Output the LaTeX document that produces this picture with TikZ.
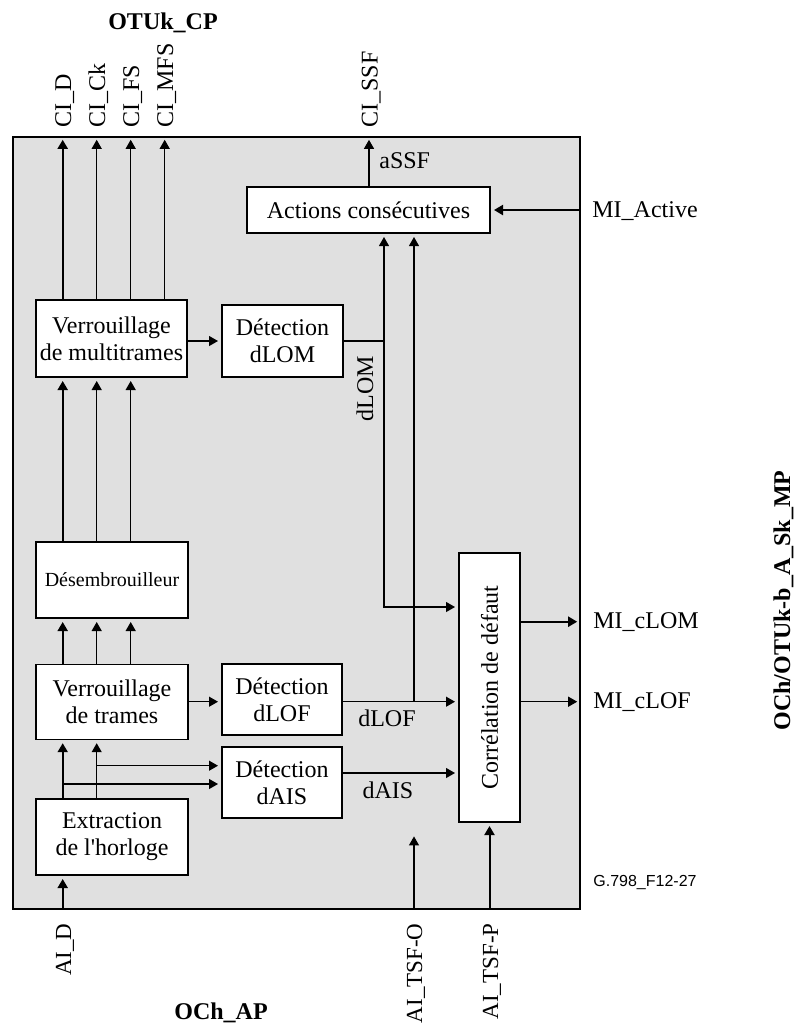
\documentclass[tikz,border=0pt]{standalone}
\usepackage{fontspec}
\setmainfont{Liberation Serif}
\newfontfamily\arialfont{Liberation Sans}
\usetikzlibrary{arrows.meta}
\definecolor{framegray}{RGB}{224,224,224}
\newcommand{\fsn}{\fontsize{12}{13.5}\selectfont}
\newcommand{\fsb}{\fontsize{11.5}{13}\selectfont}
\newcommand{\fss}{\fontsize{10}{12}\selectfont}
\begin{document}
\begin{tikzpicture}[x=0.5pt,y=-0.5pt,
  >={Triangle[length=4.5pt,width=5pt]},
  bx/.style={draw, fill=white, line width=0.6pt, inner sep=0pt, align=center, font=\fsn},
  arr/.style={->, line width=0.55pt, shorten >=1.7pt},
  thk/.style={line width=1pt},
  lbl/.style={inner sep=0pt, font=\fsn},
  ttl/.style={inner sep=0pt, font=\fsn\bfseries}]
\useasboundingbox (0,0) rectangle (794,1025);

% frame
\node[draw, fill=framegray, line width=0.6pt, inner sep=0pt, minimum width=283.5pt, minimum height=386pt] (frame) at (296.5,523) {};

% boxes
\node[bx, minimum width=75.5pt, minimum height=38.5pt] (multi) at (111.5,338.5) {Verrouillage\\de multitrames};
\node[bx, minimum width=60.5pt, minimum height=36pt] (dlom) at (282.5,341) {Détection\\dLOM};
\node[bx, minimum width=121.5pt, minimum height=23pt] (actions) at (368.5,210) {Actions consécutives};
\node[bx, minimum width=76pt, minimum height=38pt, font=\fss] (desemb) at (112,580) {Désembrouilleur};
\node[bx, minimum width=76pt, minimum height=37.5pt] (trames) at (112,701.7) {Verrouillage\\de trames};
\node[bx, minimum width=60pt, minimum height=35.5pt] (dlof) at (282,699.5) {Détection\\dLOF};
\node[bx, minimum width=60pt, minimum height=35.5pt] (dais) at (282,782.5) {Détection\\dAIS};
\node[bx, minimum width=76pt, minimum height=38pt] (extr) at (112,837) {Extraction\\de l\textquotesingle horloge};
\node[bx, minimum width=30.5pt, minimum height=134.5pt] (corr) at (489.5,687.5) {};
\node[lbl, rotate=90] (corrtxt) at (corr.center) {Corrélation de défaut};

% helper coordinates
\coordinate (c1) at (62.7,0);
\coordinate (c2) at (96.7,0);
\coordinate (c3) at (130.7,0);
\coordinate (c4) at (164.7,0);
\coordinate (xs) at (369,0);
\coordinate (v1) at (384,0);
\coordinate (v2) at (414,0);
\coordinate (yLOM) at (0,607);
\coordinate (yCLOM) at (0,621.7);
\coordinate (yLOF) at (0,701.7);
\coordinate (yAIS) at (0,773);
\coordinate (yb1) at (0,765.7);
\coordinate (yb2) at (0,784);
\coordinate (tsfo) at (414,833);

% vertical data paths
\draw[arr,thk] (multi.north -| c1) -- (frame.north -| c1);
\draw[arr] (multi.north -| c2) -- (frame.north -| c2);
\draw[arr] (multi.north -| c3) -- (frame.north -| c3);
\draw[arr] (multi.north -| c4) -- (frame.north -| c4);
\draw[arr,thk] (desemb.north -| c1) -- (multi.south -| c1);
\draw[arr] (desemb.north -| c2) -- (multi.south -| c2);
\draw[arr] (desemb.north -| c3) -- (multi.south -| c3);
\draw[arr,thk] (trames.north -| c1) -- (desemb.south -| c1);
\draw[arr] (trames.north -| c2) -- (desemb.south -| c2);
\draw[arr] (trames.north -| c3) -- (desemb.south -| c3);
\draw[arr,thk] (extr.north -| c1) -- (trames.south -| c1);
\draw[arr] (extr.north -| c2) -- (trames.south -| c2);
\draw[arr] (c2 |- yb1) -- (dais.west |- yb1);
\draw[arr] (c1 |- yb2) -- (dais.west |- yb2);
\draw[arr,thk] (frame.south -| c1) -- (extr.south -| c1);

% detections
\draw[arr] (multi.east |- dlom.west) -- (dlom.west);
\draw[arr] (trames.east) -- (dlof.west |- trames.east);
\draw[<->, line width=0.55pt, shorten >=1.7pt, shorten <=1.7pt] (actions.south -| v1) -- (v1 |- yLOM) -- (corr.west |- yLOM);
\draw[line width=0.55pt] (dlom.east) -- (v1 |- dlom.east);
\draw[arr] (dlof.east |- yLOF) -- (corr.west |- yLOF);
\draw[arr] (v2 |- yLOF) -- (actions.south -| v2);
\draw[arr] (dais.east |- yAIS) -- (corr.west |- yAIS);

% consequent actions and outputs
\draw[arr] (actions.north -| xs) -- (frame.north -| xs);
\draw[arr,thk] (frame.east |- actions.east) -- (actions.east);
\draw[arr,thk] (corr.east |- yCLOM) -- (frame.east |- yCLOM);
\draw[arr] (corr.east |- yLOF) -- (frame.east |- yLOF);
\draw[arr] (frame.south -| v2) -- (tsfo);
\draw[arr,thk] (frame.south -| corr.south) -- (corr.south);

% labels
\node[lbl, rotate=90, anchor=base west] (ciD) at (71.2,128) {CI\_D};
\node[lbl, rotate=90, anchor=base west] (ciCk) at (105.2,128) {CI\_Ck};
\node[lbl, rotate=90, anchor=base west] (ciFS) at (139.2,128) {CI\_FS};
\node[lbl, rotate=90, anchor=base west] (ciMFS) at (173.2,128) {CI\_MFS};
\node[lbl, rotate=90, anchor=base west] (ciSSF) at (377.5,128) {CI\_SSF};
\node[lbl, font=\fsb, rotate=90, anchor=base east] (aiD) at (71,923) {AI\_D};
\node[lbl, font=\fsb, rotate=90, anchor=base east] (aiO) at (422,923) {AI\_TSF-O};
\node[lbl, font=\fsb, rotate=90, anchor=base east] (aiP) at (498,923) {AI\_TSF-P};
\node[ttl, anchor=base] (otuk) at (163,29.3) {OTUk\_CP};
\node[ttl, anchor=base] (ochap) at (221,1019) {OCh\_AP};
\node[ttl, rotate=90, anchor=base east] (mp) at (790,470) {OCh/OTUk-b\_A\_Sk\_MP};
\node[lbl, anchor=base west] (miact) at (592,217) {MI\_Active};
\node[lbl, anchor=base west] (miclom) at (593,628) {MI\_cLOM};
\node[lbl, anchor=base west] (miclof) at (593,708) {MI\_cLOF};
\node[lbl, anchor=base west] (assf) at (379,168) {aSSF};
\node[lbl, anchor=base] (dloflbl) at (387,726.7) {dLOF};
\node[lbl, anchor=base] (daislbl) at (388,798) {dAIS};
\node[lbl, rotate=90, anchor=base west] (dlomlbl) at (373,421.7) {dLOM};
\node[inner sep=0pt, anchor=base west, font=\arialfont\fontsize{8}{9}\selectfont] (fig) at (593,886.7) {G.798\_F12-27};
\end{tikzpicture}
\end{document}
